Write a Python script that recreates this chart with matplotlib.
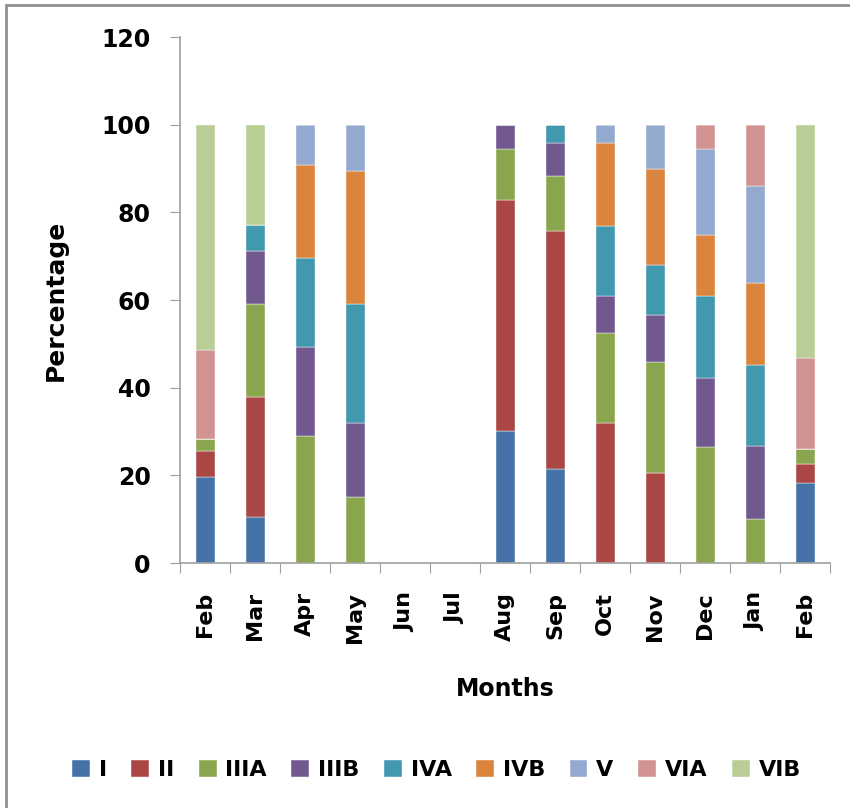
import numpy as np
import matplotlib.pyplot as plt
from matplotlib.patches import Rectangle

months = ['Feb', 'Mar', 'Apr', 'May', 'Jun', 'Jul', 'Aug', 'Sep', 'Oct', 'Nov', 'Dec', 'Jan', 'Feb']
groups = ['I', 'II', 'IIIA', 'IIIB', 'IVA', 'IVB', 'V', 'VIA', 'VIB']
colors = ['#4572A7', '#AA4643', '#89A54E', '#71588F', '#4198AF',
          '#DB843D', '#93A9CF', '#D19392', '#B9CD96']

# percentage per month, one list per group
g_I = [19.7, 10.4, 0, 0, 0, 0, 30.1, 21.4, 0, 0, 0, 0, 18.2]
g_II = [5.9, 27.4, 0, 0, 0, 0, 52.7, 54.4, 32.0, 20.6, 0, 0, 4.4]
g_IIIA = [2.6, 21.4, 29.0, 15.0, 0, 0, 11.6, 12.5, 20.4, 25.3, 26.4, 10.0, 3.5]
g_IIIB = [0, 11.9, 20.2, 17.0, 0, 0, 5.6, 7.6, 8.5, 10.6, 15.8, 16.7, 0]
g_IVA = [0, 6.1, 20.4, 27.2, 0, 0, 0, 4.1, 16.0, 11.4, 18.7, 18.4, 0]
g_IVB = [0, 0, 21.1, 30.3, 0, 0, 0, 0, 19.0, 21.9, 14.0, 18.7, 0]
g_V = [0, 0, 9.3, 10.5, 0, 0, 0, 0, 4.1, 10.2, 19.5, 22.2, 0]
g_VIA = [20.5, 0, 0, 0, 0, 0, 0, 0, 0, 0, 5.6, 14.0, 20.7]
g_VIB = [51.3, 22.8, 0, 0, 0, 0, 0, 0, 0, 0, 0, 0, 53.2]

series = [g_I, g_II, g_IIIA, g_IIIB, g_IVA, g_IVB, g_V, g_VIA, g_VIB]

plt.rcParams['font.family'] = ['DejaVu Sans']
plt.rcParams['font.weight'] = 'bold'

fig = plt.figure(figsize=(8.5, 8.08), dpi=100)
ax = fig.add_axes([0.2118, 0.3032, 0.7647, 0.651])

x = np.arange(len(months))
bottom = np.zeros(len(months))
for name, vals, c in zip(groups, series, colors):
    vals = np.array(vals)
    ax.bar(x, vals, 0.38, bottom=bottom, color=c, label=name,
           edgecolor='white', linewidth=0.3)
    bottom += vals

ax.set_xlim(-0.5, len(months) - 0.5)
ax.set_ylim(0, 120)
ax.set_yticks(np.arange(0, 121, 20))
ax.set_xticks(np.arange(len(months) + 1) - 0.5)
ax.set_xticklabels([])
ax.set_xticks(x, minor=True)
ax.set_xticklabels(months, minor=True, rotation=90, fontsize=16, fontweight='bold')
ax.tick_params(axis='x', which='minor', length=0, pad=21)
ax.tick_params(axis='x', which='major', length=7, color='#A0A0A0', direction='out')
ax.tick_params(axis='y', length=7, color='#A0A0A0', labelsize=17, pad=14)
for lab in ax.get_yticklabels():
    lab.set_fontweight('bold')

for s in ['top', 'right']:
    ax.spines[s].set_visible(False)
for s in ['left', 'bottom']:
    ax.spines[s].set_color('#A0A0A0')
    ax.spines[s].set_linewidth(1.2)

ax.set_ylabel('Percentage', fontsize=18, fontweight='bold', labelpad=24)
ax.set_xlabel('Months', fontsize=17, fontweight='bold', labelpad=24)

fig.legend(loc='center', bbox_to_anchor=(0.5135, 1 - 770 / 808), ncol=9, frameon=False,
           handlelength=0.8, handleheight=0.85, handletextpad=0.4,
           columnspacing=1.1, prop={'weight': 'bold', 'size': 16})

# outer chart frame: only left and top edges are visible in the crop
fig.patches.append(Rectangle((6 / 850, -0.05), 1.1, 1 - 5 / 808 + 0.05,
                             transform=fig.transFigure, fill=False,
                             edgecolor='#909090', linewidth=2))

fig.savefig('out.png', dpi=100)
